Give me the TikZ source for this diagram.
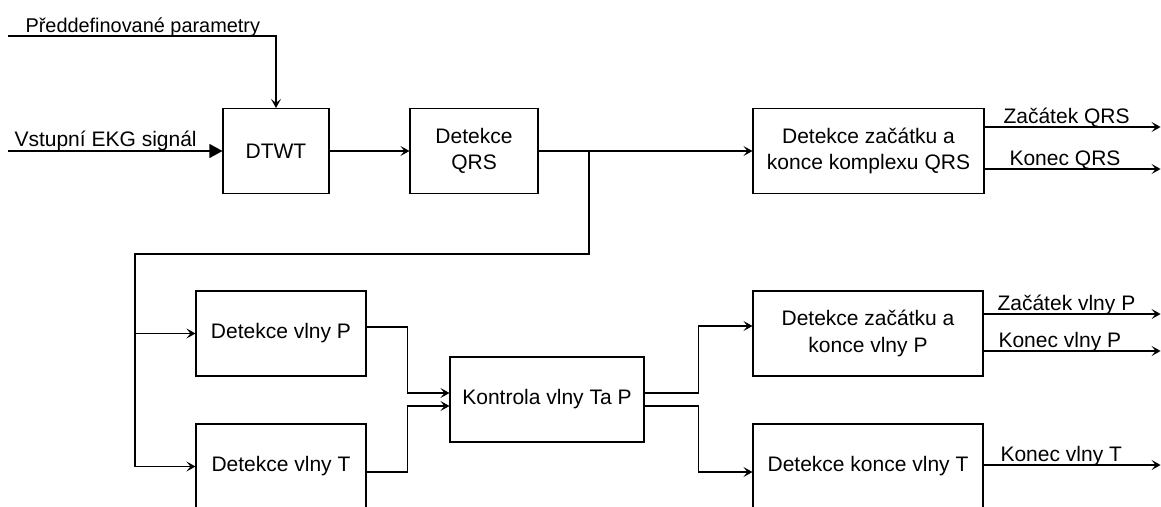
\documentclass[tikz,border=0pt]{standalone}
\usepackage{fontspec}
\setmainfont{Liberation Sans}
\usetikzlibrary{arrows.meta}
\begin{document}
\begin{tikzpicture}[x=1pt,y=-1pt,
  line width=1.1pt,
  box/.style={draw, line width=1.1pt, inner sep=0pt, align=center, font=\fontsize{21}{26.5}\selectfont},
  lbl/.style={inner sep=0pt, anchor=base west, font=\fontsize{21}{26.5}\selectfont},
  arr/.style={-{Stealth[length=9pt,width=10pt,inset=4pt]}},
  tri/.style={-{Triangle[length=13pt,width=14pt]}}]
\clip (0,0) rectangle (1161,506);
\fill[white] (0,0) rectangle (1161,506);
% boxes
\node[box, minimum width=106pt, minimum height=85pt] (dtwt) at (276,151) {DTWT};
\node[box, minimum width=128pt, minimum height=85pt] (qrs) at (474,151) {Detekce\\QRS};
\node[box, minimum width=231pt, minimum height=85pt] (qrsb) at (868.5,151) {Detekce začátku a\\konce komplexu QRS};
\node[box, minimum width=170pt, minimum height=85pt] (pdet) at (281,333.5) {Detekce vlny P};
\node[box, minimum width=170pt, minimum height=85pt] (tdet) at (281,466.5) {Detekce vlny T};
\node[box, minimum width=194pt, minimum height=85pt] (kon) at (547,399.5) {Kontrola vlny Ta P};
\node[box, minimum width=230pt, minimum height=85pt] (pb) at (868,333.5) {Detekce začátku a\\konce vlny P};
\node[box, minimum width=230pt, minimum height=85pt] (tb) at (868,466.5) {Detekce konce vlny T};
% inputs
\coordinate (pp) at (8,36);
\coordinate (vin) at (8,151);
\draw[arr] (pp) -| (dtwt.north);
\draw[tri] (vin) -- (dtwt.west);
\node[lbl, font=\fontsize{19.9}{24}\selectfont] (lpp) at (25,32) {Předdefinované parametry};
\node[lbl] (lvin) at (14,146) {Vstupní EKG signál};
% main chain
\draw[arr] (dtwt.east) -- (qrs.west);
\draw[arr] (qrs.east) -- (qrsb.west);
\coordinate (b1) at (589,151);
\coordinate (b2) at (135,254);
\draw[arr] (b1) |- (b2) |- (tdet.west);
\draw[arr] (b2 |- pdet.west) -- (pdet.west);
% to Kontrola
\draw[arr] ([yshift=6.5pt]pdet.east) -- ++(41,0) |- ([yshift=6.5pt]kon.west);
\draw[arr] ([yshift=-5.5pt]tdet.east) -- ++(41,0) |- ([yshift=-6.5pt]kon.west);
% from Kontrola
\draw[arr] ([yshift=6.5pt]kon.east) -- ++(54,0) |- ([yshift=7.5pt]pb.west);
\draw[arr] ([yshift=-6.5pt]kon.east) -- ++(54,0) |- ([yshift=-5.5pt]pb.west |- tb.west);
% outputs
\draw[arr] ([yshift=24pt]qrsb.east) -- ++(176,0);
\draw[arr] ([yshift=-18pt]qrsb.east) -- ++(176,0);
\draw[arr] ([yshift=19.5pt]pb.east) -- ++(177,0);
\draw[arr] ([yshift=-17.5pt]pb.east) -- ++(177,0);
\draw[arr] ([yshift=1.5pt]tb.east) -- ++(177,0);
\node[lbl] (o1) at (1003,123) {Začátek QRS};
\node[lbl] (o2) at (1009,165) {Konec QRS};
\node[lbl] (o3) at (997,310) {Začátek vlny P};
\node[lbl] (o4) at (998,347) {Konec vlny P};
\node[lbl] (o5) at (1000,461) {Konec vlny T};
\end{tikzpicture}
\end{document}
